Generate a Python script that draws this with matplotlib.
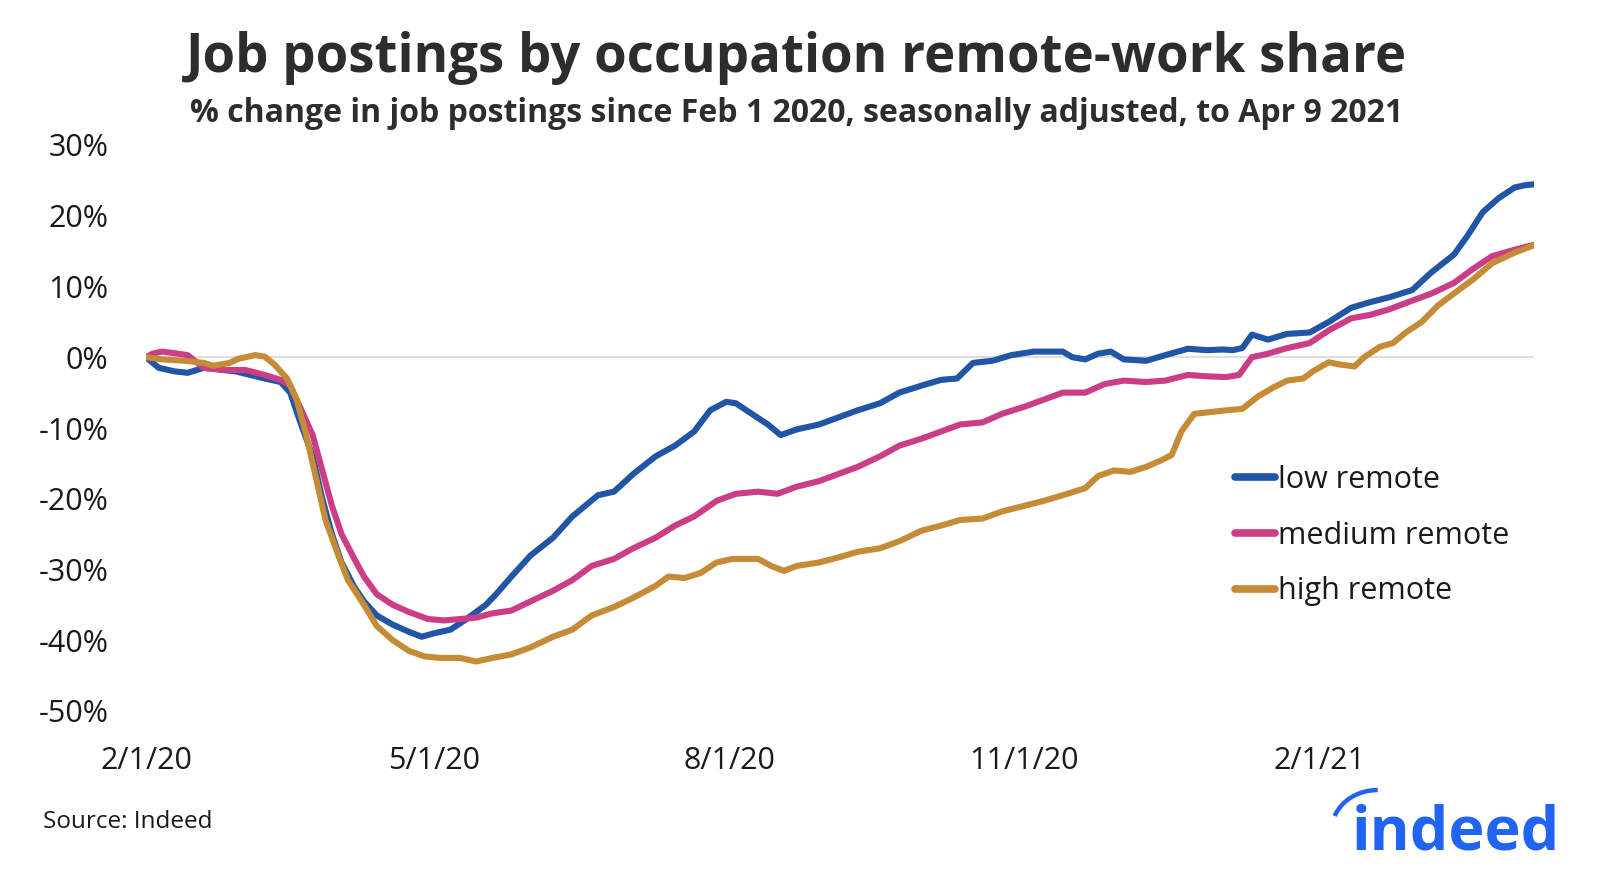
import datetime as dt
import matplotlib
matplotlib.use("Agg")
import matplotlib.pyplot as plt
from matplotlib.patches import Arc

plt.rcParams['font.family'] = ['Open Sans', 'DejaVu Sans']

START = dt.date(2020, 2, 1)

# day offsets from Feb 1 2020 and % change values
low_days = [0, 4, 9, 13, 18, 28, 37, 42, 45, 48, 52, 55, 58, 61, 65, 68, 72, 77, 82, 86,
            90, 95, 100, 106, 109, 114, 120, 127, 133, 141, 146, 152, 159, 165, 171, 176,
            181, 184, 189, 194, 198, 203, 210, 216, 222, 229, 235, 242, 248, 253, 258,
            264, 270, 277, 286, 289, 293, 297, 301, 305, 312, 318, 325, 331, 336, 339, 342,
            345, 350, 356, 363, 369, 376, 382, 388, 395, 401, 408, 412, 417, 422, 427, 430, 434]
low_vals = [0, -1.5, -2, -2.2, -1.5, -2, -3, -3.5, -5, -9, -14, -20, -25, -29, -32.5, -34.5,
            -36.5, -37.8, -38.8, -39.5, -39, -38.5, -37, -35, -33.6, -31, -28, -25.5, -22.5,
            -19.5, -19, -16.5, -14, -12.5, -10.5, -7.5, -6.3, -6.5, -8, -9.5, -11, -10.2, -9.5,
            -8.5, -7.5, -6.5, -5, -4, -3.2, -3, -0.8, -0.5, 0.3, 0.8, 0.8, 0, -0.3, 0.5, 0.8,
            -0.3, -0.5, 0.3, 1.2, 1, 1.1, 1.0, 1.3, 3.2, 2.5, 3.3, 3.5, 5, 7, 7.8, 8.5, 9.5,
            12, 14.5, 17, 20.5, 22.5, 24, 24.3, 24.5]

med_days = [0, 2, 5, 10, 13, 18, 25, 31, 37, 42, 45, 48, 52, 55, 58, 61, 65, 68, 72, 77, 82,
            88, 93, 98, 103, 108, 114, 120, 127, 133, 139, 146, 152, 159, 165, 171, 178, 184,
            191, 197, 203, 210, 216, 222, 229, 235, 242, 248, 254, 261, 267, 274, 280, 286,
            293, 299, 305, 312, 318, 325, 331, 337, 341, 345, 350, 356, 363, 369, 376, 382,
            388, 395, 401, 408, 414, 420, 427, 434]
med_vals = [0, 0.5, 0.8, 0.5, 0.3, -1.5, -1.8, -1.8, -2.5, -3.2, -4, -7, -11, -16, -21, -25,
            -28.5, -31, -33.5, -35, -36, -37, -37.2, -37, -36.8, -36.2, -35.8, -34.5, -33,
            -31.5, -29.5, -28.5, -27, -25.5, -23.8, -22.5, -20.3, -19.3, -19, -19.3, -18.3,
            -17.5, -16.5, -15.5, -14, -12.5, -11.5, -10.5, -9.5, -9.2, -8, -7, -6, -5, -5,
            -3.8, -3.3, -3.5, -3.3, -2.5, -2.7, -2.8, -2.5, 0, 0.5, 1.3, 2, 3.8, 5.5, 6, 6.8,
            8, 9, 10.5, 12.5, 14.3, 15.2, 16]

high_days = [0, 5, 12, 18, 21, 26, 29, 34, 37, 40, 44, 47, 50, 53, 56, 60, 63, 68, 72, 77,
             82, 87, 92, 98, 103, 108, 114, 120, 127, 133, 139, 146, 152, 159, 163, 168, 173,
             178, 183, 191, 195, 199, 203, 210, 216, 222, 229, 235, 242, 248, 254, 261, 267,
             274, 280, 286, 293, 297, 302, 307, 312, 317, 320, 323, 327, 331, 337, 342, 347,
             352, 356, 361, 364, 369, 372, 377, 380, 385, 389, 393, 398, 403, 408, 414, 420,
             427, 434]
high_vals = [0, -0.3, -0.5, -0.8, -1.2, -0.8, -0.2, 0.3, 0.1, -1, -3, -6, -11, -17, -23, -28,
             -31.5, -35, -38, -40, -41.5, -42.3, -42.5, -42.5, -43, -42.5, -42, -41, -39.5,
             -38.5, -36.5, -35.3, -34, -32.3, -31, -31.2, -30.5, -29, -28.5, -28.5, -29.5,
             -30.2, -29.5, -29, -28.3, -27.5, -27, -26, -24.5, -23.8, -23, -22.8, -21.8, -21,
             -20.3, -19.5, -18.5, -16.8, -16, -16.2, -15.5, -14.5, -13.8, -10.5, -8, -7.8,
             -7.5, -7.3, -5.5, -4.2, -3.3, -3, -2, -0.7, -1, -1.3, 0, 1.5, 2, 3.5, 5, 7.3, 9,
             11, 13.3, 14.8, 16]

series_names = ["low remote", "medium remote", "high remote"]
series_colors = ["#2155A6", "#CB3D87", "#C58B36"]
y_ticks = [-50, -40, -30, -20, -10, 0, 10, 20, 30]
x_tick_dates = [dt.date(2020, 2, 1), dt.date(2020, 5, 1), dt.date(2020, 8, 1),
                dt.date(2020, 11, 1), dt.date(2021, 2, 1)]
x_tick_labels = ["2/1/20", "5/1/20", "8/1/20", "11/1/20", "2/1/21"]
END = dt.date(2021, 4, 9)


def to_dates(days):
    return [START + dt.timedelta(days=d) for d in days]


W, H = 1600, 876
fig = plt.figure(figsize=(16, 8.76), dpi=100)
ax = fig.add_axes([146 / W, 1 - 711 / H, (1534 - 146) / W, (711 - 145) / H])

ax.axhline(0, color="#d9d9d9", lw=1.2, zorder=1)
for days, vals, name, col in zip([low_days, med_days, high_days],
                                 [low_vals, med_vals, high_vals],
                                 series_names, series_colors):
    ax.plot(to_dates(days), vals, color=col, lw=4.4, label=name,
            solid_capstyle="round", solid_joinstyle="round", zorder=3)

ax.set_xlim(START, END)
ax.set_ylim(-50, 30)
ax.set_yticks(y_ticks)
ax.set_yticklabels([f"{v}%" for v in y_ticks])
ax.set_xticks(x_tick_dates)
ax.set_xticklabels(x_tick_labels)
for s in ax.spines.values():
    s.set_visible(False)
ax.tick_params(axis="both", length=0, labelsize=22, colors="#1a1a1a")
ax.tick_params(axis="y", pad=27)
ax.tick_params(axis="x", pad=25)

leg = ax.legend(loc="upper left", bbox_to_anchor=(1235 / W, 1 - 465 / H),
                bbox_transform=fig.transFigure, frameon=False, fontsize=22,
                handlelength=1.3, handletextpad=0.1, labelspacing=0.84, borderpad=0,
                borderaxespad=0)
for line in leg.get_lines():
    line.set_linewidth(5.5)
for t in leg.get_texts():
    t.set_color("#1a1a1a")

fig.text(0.498, 1 - 58 / H, "Job postings by occupation remote-work share",
         ha="center", va="center", fontsize=38, fontweight="bold", color="#2d2d2d")
fig.text(0.498, 1 - 113 / H,
         "% change in job postings since Feb 1 2020, seasonally adjusted, to Apr 9 2021",
         ha="center", va="center", fontsize=23, fontweight="bold", color="#2d2d2d")
fig.text(43 / W, 1 - 822 / H, "Source: Indeed", ha="left", va="center",
         fontsize=17.5, color="#1a1a1a")

# Indeed logo
logo = fig.text(1560 / W, 1 - 850 / H, "indeed", ha="right", va="baseline",
                fontsize=44, fontweight="bold", color="#2164F3")
fig.canvas.draw()
bb = logo.get_window_extent(fig.canvas.get_renderer())
ix = bb.x0 + 12  # approx centre of the "i" stem in pixels
arc = Arc((ix + 14, H - 830), 92, 80, theta1=90, theta2=162, color="#2164F3",
          lw=3.2, transform=None)
fig.add_artist(arc)

fig.savefig("out.png", dpi=100, facecolor="white")
